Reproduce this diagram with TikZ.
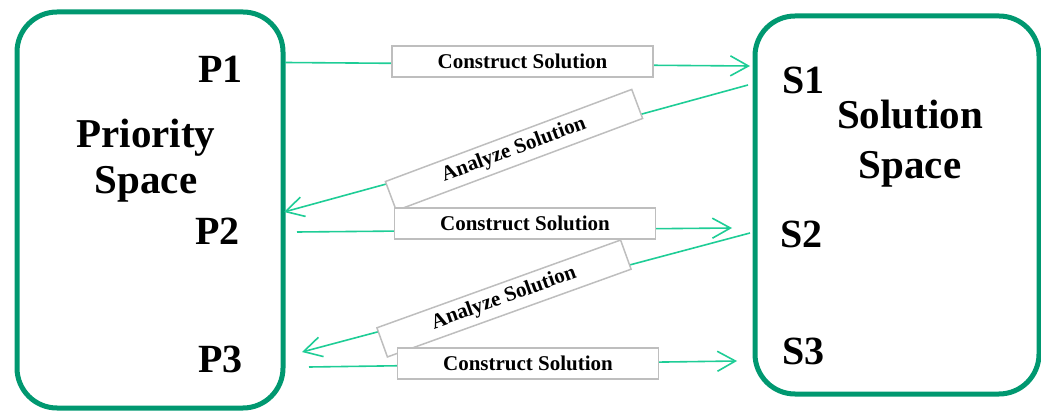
\documentclass[tikz,border=0pt]{standalone}
\usepackage{fontspec}
\setmainfont{Liberation Serif}
\usetikzlibrary{arrows.meta}
\definecolor{boxgreen}{RGB}{0,152,112}
\definecolor{arrowgreen}{RGB}{30,205,150}
\definecolor{labelgray}{RGB}{190,190,190}
\begin{document}
\begin{tikzpicture}[x=1pt,y=-1pt,
  spacebox/.style={draw=boxgreen, line width=5pt, rounded corners=40pt, inner sep=0pt},
  big/.style={font=\fontsize{40}{46}\selectfont\bfseries, inner sep=0pt, anchor=base west},
  title/.style={inner sep=0pt, align=center},
  flow/.style={draw=arrowgreen, line width=1.6pt, -{Straight Barb[length=18pt,width=20pt]}},
  lab/.style={draw=labelgray, line width=1.5pt, fill=white, minimum height=31pt, inner sep=0pt},
  clab/.style={lab, minimum width=261pt, font=\fontsize{21}{24}\selectfont\bfseries},
  alab/.style={lab, font=\fontsize{21}{24}\selectfont\bfseries}]
\useasboundingbox (0,0) rectangle (1041,411);
% big boxes
\node[spacebox, minimum width=266pt, minimum height=396pt] (PS) at (150,210) {};
\node[spacebox, minimum width=284pt, minimum height=378pt] (SS) at (897,205) {};
% connector end points
\coordinate (c1a) at (285,62.5);
\coordinate (c1b) at (750,66);
\coordinate (a1a) at (748,85);
\coordinate (a1b) at (284,212);
\coordinate (c2a) at (297,232);
\coordinate (c2b) at (732,228);
\coordinate (a2a) at (750,233);
\coordinate (a2b) at (302,352);
\coordinate (c3a) at (309,367);
\coordinate (c3b) at (737,361);
% connectors
\draw[flow] (c1a) -- (c1b);
\draw[flow] (a1a) -- (a1b);
\draw[flow] (c2a) -- (c2b);
\draw[flow] (a2a) -- (a2b);
\draw[flow] (c3a) -- (c3b);
% connector labels
\node[clab] (L1) at (522.5,61.5) {Construct Solution};
\node[alab, minimum width=263pt, rotate=20.5] (L2) at (514,150) {Analyze Solution};
\node[clab] (L3) at (525,223.5) {Construct Solution};
\node[alab, minimum width=259pt, rotate=19.8] (L4) at (504,298.5) {Analyze Solution};
\node[clab] (L5) at (528,363.5) {Construct Solution};
% texts
\node[big] (P1) at (198,83) {P1};
\node[big] (P2) at (195,245) {P2};
\node[big] (P3) at (198,373) {P3};
\node[big] (S1) at (782,94) {S1};
\node[big] (S2) at (780,248) {S2};
\node[big] (S3) at (782,365) {S3};
\node[title, font=\fontsize{41}{46}\selectfont\bfseries] (PT) at (146,160.5) {Priority\\Space};
\node[title, font=\fontsize{41}{50}\selectfont\bfseries] (ST) at (910,143.5) {Solution\\Space};
\end{tikzpicture}
\end{document}
